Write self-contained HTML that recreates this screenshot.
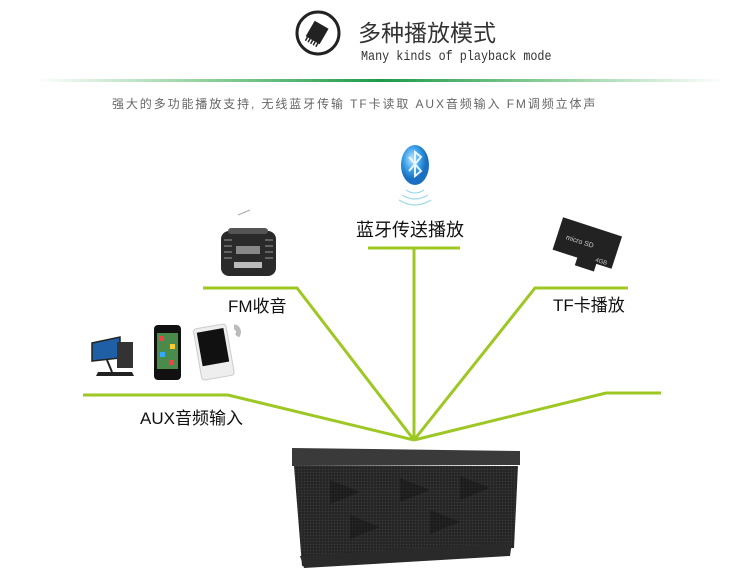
<!DOCTYPE html>
<html><head><meta charset="utf-8"><style>
body{margin:0;width:751px;height:580px;background:#fff;overflow:hidden;position:relative;font-family:"Liberation Sans","Noto Sans CJK SC",sans-serif}
.t{position:absolute;white-space:nowrap}
</style></head><body>
<svg width="751" height="580" style="position:absolute;left:0;top:0">
<defs>
<linearGradient id="hg" x1="0" x2="1"><stop offset="0" stop-color="#fff"/><stop offset="0.25" stop-color="#8fd09c"/><stop offset="0.5" stop-color="#1e9a4a"/><stop offset="0.75" stop-color="#8fd09c"/><stop offset="1" stop-color="#fff"/></linearGradient>
<radialGradient id="bt" cx="0.4" cy="0.35"><stop offset="0" stop-color="#bfe8ff"/><stop offset="0.6" stop-color="#3aa0e8"/><stop offset="1" stop-color="#1a6fc0"/></radialGradient>
<pattern id="dots" width="3" height="3" patternUnits="userSpaceOnUse"><rect width="3" height="3" fill="#262626"/><circle cx="1.5" cy="1.5" r="0.7" fill="#3c3c3c"/></pattern>
</defs>
<circle cx="318" cy="33" r="21" fill="#fff" stroke="#222" stroke-width="3"/>
<g transform="rotate(30 318 33)"><rect x="309" y="24" width="16" height="18" fill="#222"/><path d="M311 42v4M314 42v4M317 42v4M320 42v4M323 42v4" stroke="#222" stroke-width="1.5"/></g>
<rect x="35" y="79" width="690" height="3" fill="url(#hg)"/>
<g stroke="#9dc823" stroke-width="3" fill="none">
<polyline points="83,395 228,395 414,440"/>
<polyline points="203,288 297,288 414,440"/>
<polyline points="368,248 460,248"/>
<line x1="414" y1="248" x2="414" y2="440"/>
<polyline points="414,440 535,288 628,288"/>
<polyline points="414,440 606,393 661,393"/>
</g>
<ellipse cx="415" cy="165" rx="14" ry="20" fill="url(#bt)"/>
<path d="M409 157l12 14-6 5v-24l6 5-12 14" stroke="#e8f6ff" stroke-width="2" fill="none"/>
<path d="M406 190q9 6 18 0M402 195q13 8 26 0M399 200q16 10 32 0" stroke="#9ed9e8" stroke-width="1.3" fill="none"/>
<line x1="238" y1="215" x2="250" y2="210" stroke="#aaa"/>
<rect x="221" y="231" width="55" height="45" rx="8" fill="#2a2a2a"/>
<rect x="228" y="228" width="40" height="6" rx="3" fill="#555"/>
<rect x="236" y="246" width="24" height="8" fill="#888"/>
<rect x="234" y="262" width="28" height="6" fill="#bbb"/>
<g stroke="#999"><path d="M224 240h8M224 246h8M224 252h8M224 258h8M265 240h8M265 246h8M265 252h8M265 258h8"/></g>
<g transform="rotate(18 587 244)"><path d="M556 226h62v34h-16v8h-20v-8h-26z" fill="#222"/><text x="565" y="246" fill="#ccc" font-size="7">micro SD</text><text x="600" y="258" fill="#ccc" font-size="6">4GB</text></g>
<path d="M92 343l28-6v21l-28 3z" fill="#1f5fa5" stroke="#222" stroke-width="1.5"/>
<rect x="117" y="342" width="16" height="26" fill="#333"/>
<path d="M98 372h34l2 4h-38z" fill="#222"/><line x1="107" y1="360" x2="112" y2="372" stroke="#222" stroke-width="2"/>
<rect x="154" y="325" width="27" height="55" rx="4" fill="#111"/>
<rect x="157" y="333" width="21" height="36" fill="#4a8a4a"/>
<g fill="#e44"><rect x="159" y="336" width="5" height="5"/><rect x="170" y="344" width="5" height="5" fill="#fc3"/><rect x="160" y="352" width="5" height="5" fill="#3af"/><rect x="169" y="360" width="5" height="5"/></g>
<g transform="rotate(-10 214 350)"><rect x="197" y="326" width="33" height="52" rx="3" fill="#eee" stroke="#ccc"/><rect x="200" y="330" width="27" height="34" fill="#111"/></g>
<path d="M234 327c4 0 6 5 3 9" stroke="#bbb" stroke-width="5" fill="none"/>
<path d="M292 448L520 451L520 465L292 466z" fill="#3a3a3a"/>
<path d="M294 466L518 466L514 548L302 566z" fill="url(#dots)"/>
<path d="M300 556L512 542L510 556L304 568z" fill="#2a2a2a"/>
<g fill="#000" opacity="0.25"><path d="M330 480l30 12-30 12z"/><path d="M400 478l30 12-30 12z"/><path d="M460 476l30 12-30 12z"/><path d="M350 515l30 12-30 12z"/><path d="M430 510l30 12-30 12z"/></g>
</svg>
<div class="t" style="left:358px;top:14px;font-size:23px;color:#333">多种播放模式</div>
<div class="t" style="left:361px;top:49px;font-size:14px;color:#333;font-family:'Liberation Mono',monospace;transform:scaleX(0.84);transform-origin:0 0">Many kinds of playback mode</div>
<div class="t" style="left:112px;top:95px;font-size:12px;color:#666;letter-spacing:1.9px">强大的多功能播放支持, 无线蓝牙传输 TF卡读取 AUX音频输入 FM调频立体声</div>
<div class="t" style="left:356px;top:216px;font-size:18px;color:#111">蓝牙传送播放</div>
<div class="t" style="left:228px;top:292px;font-size:17px;color:#111">FM收音</div>
<div class="t" style="left:553px;top:291px;font-size:17px;color:#111">TF卡播放</div>
<div class="t" style="left:140px;top:404px;font-size:17px;color:#111">AUX音频输入</div>
</body></html>
